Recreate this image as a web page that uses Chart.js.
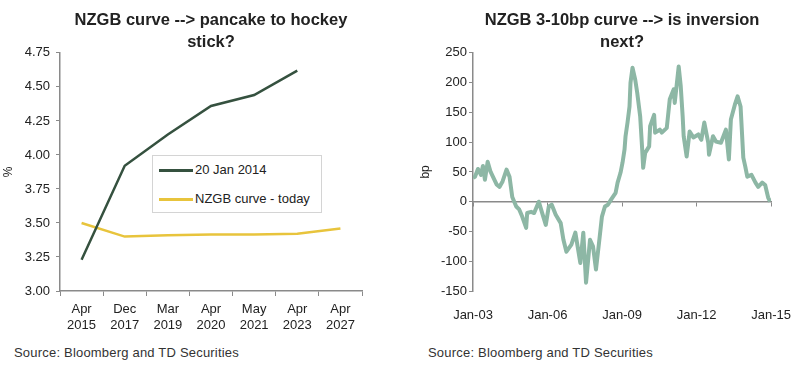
<!DOCTYPE html>
<html>
<head>
<meta charset="utf-8">
<script src="https://cdn.jsdelivr.net/npm/chart.js@4/dist/chart.umd.min.js"></script>
<style>
  body { margin: 0; background: #fff; width: 800px; height: 369px; overflow: hidden; position: relative;
         font-family: "Liberation Sans", Arial, sans-serif; }
  .box { position: absolute; top: 0; height: 340px; }
  .src { position: absolute; top: 345px; font-size: 13px; letter-spacing: 0.2px; color: #333; }
  #legend { position: absolute; left: 152px; top: 155px; width: 168px; height: 56px;
            border: 1px solid #d4d4d4; background: #fff; font-size: 13px; color: #222; }
  .li { position: absolute; left: 6px; height: 15px; line-height: 15px; }
  .li span.sw { display: inline-block; width: 34px; height: 3px; vertical-align: middle; margin-right: 2px; }
</style>
</head>
<body>
<div class="box" style="left:0;width:400px"><canvas id="left"></canvas></div>
<div class="box" style="left:400px;width:400px"><canvas id="right"></canvas></div>
<div id="legend">
  <div class="li" style="top:6px"><span class="sw" style="background:#35513f"></span>20 Jan 2014</div>
  <div class="li" style="top:35px"><span class="sw" style="background:#e8c43c"></span>NZGB curve - today</div>
</div>
<div class="src" style="left:14px">Source: Bloomberg and TD Securities</div>
<div class="src" style="left:428px">Source: Bloomberg and TD Securities</div>
<script>
// ── DATA ──────────────────────────────────────────────────────
const bondLabels = [['Apr','2015'],['Dec','2017'],['Mar','2019'],['Apr','2020'],['May','2021'],['Apr','2023'],['Apr','2027']];
const jan2014    = [3.23, 3.92, 4.15, 4.36, 4.44, 4.62, null];
const today      = [3.50, 3.40, 3.41, 3.415, 3.415, 3.42, 3.46];

// 3-10 spread, decimal years and bp
const spreadDates = [
  2003.00, 2003.08, 2003.20, 2003.32, 2003.40, 2003.48, 2003.59, 2003.71, 2003.95, 2004.07, 2004.19,
  2004.35, 2004.47, 2004.58, 2004.74, 2004.86, 2004.98, 2005.14, 2005.18, 2005.34, 2005.46, 2005.65,
  2005.77, 2005.93, 2006.05, 2006.17, 2006.33, 2006.53, 2006.64, 2006.76, 2006.96, 2007.12, 2007.32,
  2007.44, 2007.55, 2007.71, 2007.83, 2007.95, 2008.07, 2008.19, 2008.31, 2008.43, 2008.55, 2008.74,
  2008.82, 2008.94, 2009.02, 2009.10, 2009.14, 2009.22, 2009.30, 2009.34, 2009.42, 2009.53, 2009.61,
  2009.73, 2009.81, 2009.85, 2009.93, 2010.09, 2010.13, 2010.29, 2010.33, 2010.52, 2010.60, 2010.80,
  2010.92, 2011.08, 2011.12, 2011.28, 2011.36, 2011.44, 2011.48, 2011.60, 2011.72, 2011.87, 2012.07,
  2012.19, 2012.31, 2012.47, 2012.50, 2012.66, 2012.78, 2012.98, 2013.18, 2013.30, 2013.38, 2013.54,
  2013.65, 2013.77, 2013.88, 2013.96, 2014.04, 2014.21, 2014.37, 2014.48, 2014.64, 2014.76,
  2014.88, 2014.96, 2015.04
];
const spreadBp = [
  40, 42, 55, 45, 60, 37, 67, 50, 29, 25, 34,
  54, 42, 8, -8, -13, -25, -44, -19, -17, -19, 0,
  -17, -39, -8, -5, -22, -36, -64, -84, -72, -52, -103,
  -52, -136, -64, -75, -114, -70, -25, -8, -5, 3, 15,
  32, 49, 66, 88, 110, 133, 160, 200, 225, 205, 183,
  143, 88, 57, 82, 93, 127, 146, 116, 121, 116, 124,
  172, 189, 166, 227, 195, 143, 110, 76, 118, 108, 113,
  104, 133, 99, 79, 110, 101, 99, 121, 71, 138,
  163, 177, 160, 74, 59, 42, 45, 32, 25, 32,
  28, 7, 0
];

const FONT = '"Liberation Sans", Arial, sans-serif';
Chart.defaults.font.family = FONT;
Chart.defaults.color = '#222';
const AX = '#8a8a8a';

// ── LEFT: NZGB CURVE ──────────────────────────────────────────
new Chart(document.getElementById('left'), {
  type: 'line',
  data: {
    labels: bondLabels,
    datasets: [
      { label: '20 Jan 2014', data: jan2014, borderColor: '#35513f', borderWidth: 2.5, pointRadius: 0, tension: 0 },
      { label: 'NZGB curve - today', data: today, borderColor: '#e8c43c', borderWidth: 2.5, pointRadius: 0, tension: 0 },
    ],
  },
  options: {
    responsive: true, maintainAspectRatio: false, animation: false,
    layout: { padding: { left: 0, right: 38, top: 0, bottom: 0 } },
    plugins: {
      legend: { display: false },
      tooltip: { enabled: false },
      title: {
        display: true, fullSize: false, color: '#222',
        text: ['NZGB curve --> pancake to hockey', 'stick?'],
        font: { size: 16.5, weight: 'bold', lineHeight: 1.3 },
        padding: { top: 10, bottom: 0 },
      },
    },
    scales: {
      x: {
        offset: true,
        border: { color: AX, width: 1.5 },
        grid: { offset: true, drawOnChartArea: false, color: AX, tickLength: 5 },
        ticks: { font: { size: 13, lineHeight: 1.25 }, padding: 5, maxRotation: 0, autoSkip: false },
        afterFit: s => { s.height = 49; },
      },
      y: {
        min: 3, max: 4.75,
        border: { color: AX, width: 1.5 },
        grid: { drawOnChartArea: false, color: AX, tickLength: 4 },
        ticks: { stepSize: 0.25, font: { size: 13 }, padding: 6, callback: v => v.toFixed(2) },
        title: { display: true, text: '%', font: { size: 12 }, padding: { top: 1, bottom: 0 } },
        afterFit: s => { s.width = 60; },
      },
    },
  },
});

// ── RIGHT: 3-10 SPREAD ────────────────────────────────────────
new Chart(document.getElementById('right'), {
  type: 'line',
  data: {
    datasets: [
      { label: '3-10bp', data: spreadDates.map((d, i) => ({ x: d, y: spreadBp[i] })),
        borderColor: '#8db7a5', borderWidth: 4, borderJoinStyle: 'round', pointRadius: 0, tension: 0 },
    ],
  },
  options: {
    responsive: true, maintainAspectRatio: false, animation: false,
    layout: { padding: { left: 0, right: 24, top: 0, bottom: 0 } },
    plugins: {
      legend: { display: false },
      tooltip: { enabled: false },
      title: {
        display: true, fullSize: false, color: '#222',
        text: ['NZGB 3-10bp curve --> is inversion', 'next?'],
        font: { size: 16.5, weight: 'bold', lineHeight: 1.3 },
        padding: { top: 10, bottom: 0 },
      },
    },
    scales: {
      x: {
        type: 'linear', min: 2003, max: 2015,
        border: { display: false },
        grid: { display: false },
        ticks: { stepSize: 3, font: { size: 13 }, padding: 9, maxRotation: 0,
                 callback: v => 'Jan-' + String(v % 100).padStart(2, '0') },
        afterFit: s => { s.height = 49; },
      },
      x0: {
        type: 'linear', min: 2003, max: 2015, position: { y: 0 },
        border: { color: AX, width: 1.5 },
        grid: { drawOnChartArea: false, color: AX, tickLength: 4 },
        ticks: { display: false, stepSize: 3 },
      },
      y: {
        min: -150, max: 250,
        border: { color: AX, width: 1.5 },
        grid: { drawOnChartArea: false, color: AX, tickLength: 4 },
        ticks: { stepSize: 50, font: { size: 13 }, padding: 2 },
        title: { display: true, text: 'bp', font: { size: 12 }, padding: { top: 18, bottom: 0 } },
        afterFit: s => { s.width = 73; },
      },
    },
  },
});
</script>
</body>
</html>
